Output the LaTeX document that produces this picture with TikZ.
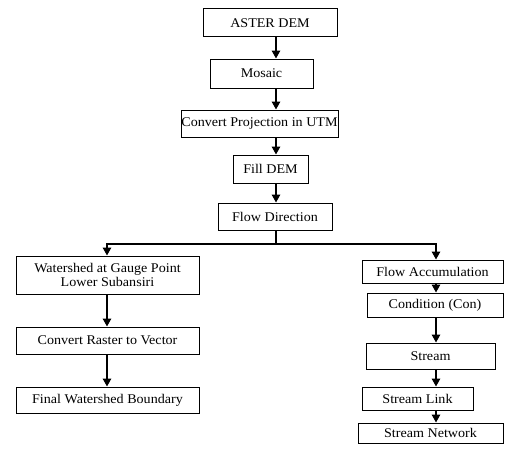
\documentclass[tikz,border=0pt]{standalone}
\usepackage{fontspec}
\setmainfont[FakeStretch=1.06]{Liberation Serif}
\usetikzlibrary{arrows.meta}
\begin{document}
\begin{tikzpicture}[x=1pt,y=-1pt,
  box/.style={draw,line width=1pt,inner sep=0pt,align=center,font=\fontsize{13.3}{14.5}\selectfont},
  arr/.style={line width=1.5pt,-{Triangle[length=8pt,width=8.5pt]}},
  ln/.style={line width=1.5pt}]
\useasboundingbox (0,0) rectangle (510,452);
\coordinate (colM) at (276,0);
\coordinate (colL) at (107,0);
\coordinate (colR) at (436,0);
\node[box,minimum width=134pt,minimum height=28pt] (aster) at (270,23) {ASTER DEM};
\node[box,minimum width=103pt,minimum height=29pt] (mosaic) at (261.5,73.5) {Mosaic};
\node[box,minimum width=157pt,minimum height=27pt] (convert) at (259.5,123.5) {Convert Projection in UTM};
\node[box,minimum width=75pt,minimum height=28pt] (fill) at (270.5,169) {Fill DEM};
\node[box,minimum width=114pt,minimum height=27pt] (flowdir) at (275,216.5) {Flow Direction};
\node[box,minimum width=183pt,minimum height=38pt] (watershed) at (107.5,275) {Watershed at Gauge Point\\Lower Subansiri};
\node[box,minimum width=183pt,minimum height=27pt] (raster) at (107.5,340.5) {Convert Raster to Vector};
\node[box,minimum width=183pt,minimum height=26pt] (final) at (107.5,400) {Final Watershed Boundary};
\node[box,minimum width=141pt,minimum height=23pt] (flowacc) at (432.5,271.5) {Flow Accumulation};
\node[box,minimum width=136pt,minimum height=24pt] (cond) at (435,305) {Condition (Con)};
\node[box,minimum width=129pt,minimum height=26pt] (stream) at (430.5,356) {Stream};
\node[box,minimum width=111pt,minimum height=23pt] (link) at (417.5,398.5) {Stream Link};
\node[box,minimum width=145pt,minimum height=20pt] (network) at (430.5,433) {Stream Network};
\coordinate (split) at (276,244);
\draw[arr] (aster.south -| colM) -- (mosaic.north -| colM);
\draw[arr] (mosaic.south -| colM) -- (convert.north -| colM);
\draw[arr] (convert.south -| colM) -- (fill.north -| colM);
\draw[arr] (fill.south -| colM) -- (flowdir.north -| colM);
\draw[ln] (flowdir.south -| colM) -- (split);
\draw[arr] (split) -| (colL |- watershed.north);
\draw[arr] (split) -| (colR |- flowacc.north);
\draw[arr] (watershed.south -| colL) -- (raster.north -| colL);
\draw[arr] (raster.south -| colL) -- (final.north -| colL);
\draw[arr] (flowacc.south -| colR) -- (cond.north -| colR);
\draw[arr] (cond.south -| colR) -- (stream.north -| colR);
\draw[arr] (stream.south -| colR) -- (link.north -| colR);
\draw[arr] (link.south -| colR) -- (network.north -| colR);
\end{tikzpicture}
\end{document}
